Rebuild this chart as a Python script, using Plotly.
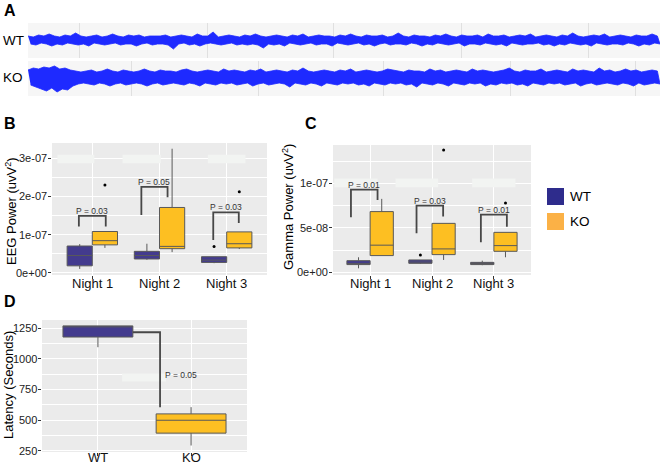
import plotly.graph_objects as go

W, H = 662, 464
def px(x): return x / W
def py(y): return 1 - y / H

# ---------------- data ----------------
genotypes = ["WT", "KO"]
nights = ["Night 1", "Night 2", "Night 3"]

# A: EEG trace, successive positive / negative excursions (arbitrary units)
wt_upper = [4,3,5,4,6,4,3,5,4,7,4,3,4,5,3,4,6,4,3,5,
            4,5,3,4,4,4,5,3,4,5,4,3,6,4,4,8,3,4,5,4,
            3,5,4,6,4,3,4,5,4,3,5,4,6,3,4,5,4,4,3,5,
            4,6,4,3,5,4,4,5,3,4,7,4,3,5,4,4,3,5,4,6,
            4,3,5,4,4,5,3,6,4,4,5,3,4,5,4,6,3,4,5,4,
            3,5,4,7,4,3,4,5,4,6,3,4,5,4,3,5,4,4,6,4]
wt_lower = [-4,-5,-3,-4,-6,-4,-5,-3,-4,-5,-4,-6,-3,-4,-5,-4,-3,-5,-4,-4,
            -6,-4,-3,-5,-4,-4,-5,-9,-4,-3,-5,-4,-6,-4,-3,-4,-5,-4,-3,-5,
            -4,-5,-4,-5,-8,-4,-5,-4,-6,-3,-4,-5,-4,-3,-5,-4,-4,-6,-3,-4,
            -5,-4,-3,-5,-4,-6,-4,-3,-5,-4,-4,-5,-3,-4,-6,-4,-5,-3,-4,-5,
            -4,-3,-6,-4,-4,-5,-3,-4,-5,-4,-6,-3,-4,-5,-4,-4,-3,-5,-4,-6,
            -4,-5,-3,-4,-5,-4,-6,-3,-4,-5,-4,-4,-5,-3,-4,-6,-4,-5,-3,-4]
ko_upper = [7,9,8,10,9,11,8,9,7,6,5,6,7,5,6,8,6,5,7,6,
            5,6,8,6,5,7,6,6,5,7,8,6,5,6,7,6,5,8,6,7,
            6,5,7,6,8,5,6,7,6,5,7,6,9,6,5,6,7,6,5,7,
            6,8,5,6,7,6,5,6,8,7,6,5,7,6,6,5,8,6,7,5,
            6,7,6,5,8,6,7,6,5,6,7,9,6,5,7,6,6,8,5,6,
            7,6,5,8,6,7,6,5,9,6,7,5,6,8,6,7,5,6,7,6]
ko_lower = [-8,-10,-12,-14,-11,-15,-12,-13,-9,-7,-6,-7,-8,-6,-7,-9,-7,-6,-8,-7,
            -6,-7,-9,-7,-6,-8,-7,-6,-7,-8,-6,-7,-9,-6,-7,-8,-6,-7,-6,-8,
            -7,-6,-9,-7,-6,-8,-7,-6,-7,-10,-6,-7,-8,-6,-7,-9,-6,-7,-8,-6,
            -7,-6,-8,-7,-9,-6,-7,-8,-6,-7,-6,-8,-7,-10,-6,-7,-8,-6,-7,-9,
            -6,-7,-8,-6,-7,-6,-9,-7,-8,-6,-7,-6,-8,-7,-9,-6,-7,-8,-6,-7,
            -6,-8,-7,-6,-9,-7,-6,-8,-7,-6,-7,-8,-6,-7,-9,-6,-8,-7,-6,-7]

# B: EEG power (x 1e-07)
eeg_wt_low  = [0.10, 0.34, 0.25]
eeg_wt_q1   = [0.18, 0.36, 0.27]
eeg_wt_med  = [0.45, 0.45, 0.33]
eeg_wt_q3   = [0.70, 0.56, 0.42]
eeg_wt_high = [0.75, 0.76, 0.42]
eeg_ko_low  = [0.65, 0.54, 0.62]
eeg_ko_q1   = [0.73, 0.63, 0.65]
eeg_ko_med  = [0.84, 0.69, 0.76]
eeg_ko_q3   = [1.08, 1.71, 1.07]
eeg_ko_high = [1.08, 3.25, 1.07]
eeg_wt_out  = [None, None, 0.69]
eeg_ko_out  = [2.30, None, 2.12]
eeg_br_left  = [1.21, 1.51, 0.86]
eeg_br_top   = [1.49, 2.25, 1.58]
eeg_br_right = [1.21, 1.98, 1.30]
eeg_p = ["P = 0.03", "P = 0.05", "P = 0.03"]
eeg_ticks = [0, 1, 2, 3]
eeg_tick_text = ["0e+00", "1e-07", "2e-07", "3e-07"]

# C: Gamma power (x 1e-08)
gam_wt_low  = [0.45, 0.95, 0.80]
gam_wt_q1   = [0.87, 1.01, 0.87]
gam_wt_med  = [1.00, 1.15, 0.95]
gam_wt_q3   = [1.31, 1.39, 1.12]
gam_wt_high = [1.69, 1.39, 1.31]
gam_ko_low  = [1.88, 1.39, 1.69]
gam_ko_q1   = [1.88, 1.99, 2.36]
gam_ko_med  = [3.05, 2.63, 3.00]
gam_ko_q3   = [6.82, 5.50, 4.49]
gam_ko_high = [8.25, 5.50, 4.49]
gam_wt_out  = [None, 1.95, None]
gam_ko_out  = [None, 13.75, 7.80]
gam_br_left  = [6.18, 4.38, 3.37]
gam_br_top   = [9.29, 7.49, 6.48]
gam_br_right = [8.13, 6.26, 5.13]
gam_p = ["P = 0.01", "P = 0.03", "P = 0.01"]
gam_ticks = [0, 5, 10]
gam_tick_text = ["0e+00", "5e-08", "1e-07"]

# D: latency (seconds)
lat_low  = [1095, 293]
lat_q1   = [1178, 394]
lat_med  = [1265, 499]
lat_q3   = [1269, 551]
lat_high = [1269, 606]
lat_br = [1217, 605]
lat_p = "P = 0.05"
lat_ticks = [250, 500, 750, 1000, 1250]
lat_tick_text = ["250", "500", "750", "1000", "1250"]

# ---------------- style ----------------
WT_FILL = "#433B8E"
KO_FILL = "#FDBF22"
WT_LEG = "#2E2C8C"
KO_LEG = "#FBB146"
BOX_LINE = "#595959"
BR_COL = "#474747"
TRACE = "rgb(30,42,255)"
PANEL = "#EBEBEB"
REG = "Liberation Sans, Arial, sans-serif"
PFONT = dict(family=REG, size=8.5, color="#333333")
TICKF = dict(family=REG, size=11, color="#222222")

fig = go.Figure()

# ---- A traces: filled envelope between positive and negative excursions ----
for up, lo, ax in [(wt_upper, wt_lower, ""), (ko_upper, ko_lower, "2")]:
    xu = [2 * i for i in range(len(up))]
    xl = [2 * i + 1 for i in range(len(lo))]
    fig.add_trace(go.Scatter(x=xu + xl[::-1], y=up + lo[::-1], mode="lines", fill="toself",
                             fillcolor=TRACE, line=dict(color=TRACE, width=0.8),
                             xaxis="x" + ax, yaxis="y" + ax, hoverinfo="skip", showlegend=False))

def add_boxes(xa, ya, pos, low, q1, med, q3, high, fill, width, scale=1.0):
    for p, a, b, c, d, e in zip(pos, low, q1, med, q3, high):
        fig.add_trace(go.Box(x=[p], q1=[b*scale], median=[c*scale], q3=[d*scale],
                             lowerfence=[a*scale], upperfence=[e*scale],
                             width=width, fillcolor=fill, whiskerwidth=0,
                             line=dict(color=BOX_LINE, width=1), boxpoints=False,
                             xaxis=xa, yaxis=ya, showlegend=False, hoverinfo="skip"))

def add_outliers(xa, ya, pos, vals, scale=1.0):
    xs = [p for p, v in zip(pos, vals) if v is not None]
    ys = [v*scale for v in vals if v is not None]
    if xs:
        fig.add_trace(go.Scatter(x=xs, y=ys, mode="markers",
                                 marker=dict(color="black", size=3),
                                 xaxis=xa, yaxis=ya, showlegend=False, hoverinfo="skip"))

def add_brackets(xa, ya, lo_off, hi_off, lb, top, rb, texts, scale):
    for i in range(len(lb)):
        xl, xr = i + lo_off[i], i + hi_off[i]
        fig.add_trace(go.Scatter(x=[xl, xl, xr, xr],
                                 y=[lb[i]*scale, top[i]*scale, top[i]*scale, rb[i]*scale],
                                 mode="lines", line=dict(color=BR_COL, width=1.8),
                                 xaxis=xa, yaxis=ya, showlegend=False, hoverinfo="skip"))
        fig.add_annotation(x=(xl + xr) / 2, y=top[i]*scale, xref=xa, yref=ya,
                           text=texts[i], showarrow=False, yanchor="bottom", yshift=-2,
                           font=PFONT)

dodge = 0.1875
idx = list(range(len(nights)))

# ---- B ----
add_boxes("x3", "y3", [i - dodge for i in idx], eeg_wt_low, eeg_wt_q1, eeg_wt_med, eeg_wt_q3, eeg_wt_high, WT_FILL, 0.375, 1e-7)
add_boxes("x3", "y3", [i + dodge for i in idx], eeg_ko_low, eeg_ko_q1, eeg_ko_med, eeg_ko_q3, eeg_ko_high, KO_FILL, 0.375, 1e-7)
add_outliers("x3", "y3", [i - dodge for i in idx], eeg_wt_out, 1e-7)
add_outliers("x3", "y3", [i + dodge for i in idx], eeg_ko_out, 1e-7)
add_brackets("x3", "y3", [-0.20, -0.27, -0.20], [0.20, 0.12, 0.18],
             eeg_br_left, eeg_br_top, eeg_br_right, eeg_p, 1e-7)

# ---- C ----
add_boxes("x4", "y4", [i - dodge for i in idx], gam_wt_low, gam_wt_q1, gam_wt_med, gam_wt_q3, gam_wt_high, WT_FILL, 0.375, 1e-8)
add_boxes("x4", "y4", [i + dodge for i in idx], gam_ko_low, gam_ko_q1, gam_ko_med, gam_ko_q3, gam_ko_high, KO_FILL, 0.375, 1e-8)
add_outliers("x4", "y4", [i - dodge for i in idx], gam_wt_out, 1e-8)
add_outliers("x4", "y4", [i + dodge for i in idx], gam_ko_out, 1e-8)
add_brackets("x4", "y4", [-0.31, -0.25, -0.21], [0.12, 0.18, 0.21],
             gam_br_left, gam_br_top, gam_br_right, gam_p, 1e-8)

# ---- D ----
add_boxes("x5", "y5", [0], lat_low[:1], lat_q1[:1], lat_med[:1], lat_q3[:1], lat_high[:1], WT_FILL, 0.75)
add_boxes("x5", "y5", [1], lat_low[1:], lat_q1[1:], lat_med[1:], lat_q3[1:], lat_high[1:], KO_FILL, 0.75)
fig.add_trace(go.Scatter(x=[0.375, 0.667, 0.667], y=[lat_br[0], lat_br[0], lat_br[1]],
                         mode="lines", line=dict(color=BR_COL, width=1.8),
                         xaxis="x5", yaxis="y5", showlegend=False, hoverinfo="skip"))
fig.add_annotation(x=0.70, y=865, xref="x5", yref="y5", text=lat_p, showarrow=False,
                   xanchor="left", font=PFONT)

# ---- category labels ----
for xa, labels, yc in [("x3", nights, 283), ("x4", nights, 283), ("x5", genotypes, 457)]:
    for i, lab in enumerate(labels):
        fig.add_annotation(x=i, y=py(yc), xref=xa, yref="paper", text=lab, showarrow=False,
                           xanchor="center", yanchor="middle",
                           font=dict(family=REG, size=13, color="#111111"))

# ---- value tick labels ----
for ya, left, vals, texts, scale in [("y3", 52, eeg_ticks, eeg_tick_text, 1e-7),
                                     ("y4", 333, gam_ticks, gam_tick_text, 1e-8),
                                     ("y5", 42, lat_ticks, lat_tick_text, 1.0)]:
    for v, t in zip(vals, texts):
        fig.add_annotation(x=px(left - 3), y=v * scale, xref="paper", yref=ya, text=t,
                           showarrow=False, xanchor="right", yanchor="middle", font=TICKF)

# ---- faint label rectangles ----
shapes = []
for (x0, x1) in [(-0.52, 0.03), (0.45, 1.02), (1.72, 2.28)]:
    shapes.append(dict(type="rect", xref="x3", yref="y3", x0=x0, x1=x1, y0=2.87e-7, y1=3.09e-7,
                       fillcolor="#F2F4F2", line=dict(width=0), layer="between"))
for (x0, x1) in [(-0.58, 0.12), (0.41, 1.10), (1.65, 2.35)]:
    shapes.append(dict(type="rect", xref="x4", yref="y4", x0=x0, x1=x1, y0=0.955e-7, y1=1.055e-7,
                       fillcolor="#F2F4F2", line=dict(width=0), layer="between"))
shapes.append(dict(type="rect", xref="x5", yref="y5", x0=0.26, x1=0.73, y0=816, y1=881,
                   fillcolor="#F2F4F2", line=dict(width=0), layer="between"))

# panel A backgrounds
for (y0, y1) in [(23, 58), (61, 96)]:
    shapes.append(dict(type="rect", xref="paper", yref="paper", x0=px(28), x1=px(660),
                       y0=py(y1), y1=py(y0), fillcolor="#F6F6F6", line=dict(width=0), layer="below"))

# ---- legend ----
for k, (g, col) in enumerate(zip(genotypes, [WT_LEG, KO_LEG])):
    y0 = 188 + k * 25
    shapes.append(dict(type="rect", xref="paper", yref="paper", x0=px(547), x1=px(564),
                       y0=py(y0 + 17), y1=py(y0), fillcolor=col, line=dict(width=0)))
    fig.add_annotation(x=px(568), y=py(y0 + 8.5), xref="paper", yref="paper", text=g,
                       showarrow=False, xanchor="left", yanchor="middle",
                       font=dict(family=REG, size=13.5, color="black"))

# ---- panel letters and labels ----
for letter, (lx, ly) in zip("ABCD", [(2, 11), (2, 124), (303, 124), (2, 301)]):
    fig.add_annotation(x=px(lx), y=py(ly), xref="paper", yref="paper", text="<b>%s</b>" % letter,
                       showarrow=False, xanchor="left", yanchor="middle",
                       font=dict(family=REG, size=16, color="black"))
for g, yc in zip(genotypes, [40, 77]):
    fig.add_annotation(x=px(1), y=py(yc), xref="paper", yref="paper", text=g, showarrow=False,
                       xanchor="left", yanchor="middle", font=dict(family=REG, size=13.5, color="black"))

for txt, (xc, yc) in [("EEG Power (uvV<sup>2</sup>)", (11, 211)),
                      ("Gamma Power (uvV<sup>2</sup>)", (288, 207)),
                      ("Latency (Seconds)", (8, 385))]:
    fig.add_annotation(x=px(xc), y=py(yc), xref="paper", yref="paper", text=txt, showarrow=False,
                       textangle=-90, xanchor="center", yanchor="middle",
                       font=dict(family=REG, size=13, color="black"))

# ---- axes ----
NPTS = 2 * len(wt_upper) - 1
def trace_axes(ydom, gridvals, yrng):
    xa = dict(domain=[px(28), px(660)], range=[0, NPTS], showgrid=True,
              gridcolor="#E0E0E0", gridwidth=1, tickvals=gridvals, showticklabels=False,
              ticks="", zeroline=False, showline=False)
    ya = dict(domain=[py(ydom[1]), py(ydom[0])], range=yrng, showgrid=False, showticklabels=False,
              ticks="", zeroline=False, showline=False)
    return xa, ya

xa1, ya1 = trace_axes((23, 58), [19.3, 67.7, 115.7, 163.8, 211.8], [-18, 17])
xa2, ya2 = trace_axes((61, 96), [39.3, 87.0, 134.3, 182.3, 229.6], [-19, 16])

def cat_x(dom, labels):
    return dict(domain=[px(dom[0]), px(dom[1])], range=[-0.6, len(labels) - 0.4],
                tickvals=list(range(len(labels))), showticklabels=False, showgrid=True,
                gridcolor="white", gridwidth=1.2, ticks="outside", ticklen=3, tickcolor="#333333",
                zeroline=False, showline=False)

def val_y(dom, rng, tv, minor):
    return dict(domain=[py(dom[1]), py(dom[0])], range=rng, tickvals=tv, showticklabels=False,
                showgrid=True, gridcolor="white", gridwidth=1.2, ticks="outside", ticklen=3,
                tickcolor="#333333", zeroline=False, showline=False,
                minor=dict(tickvals=minor, showgrid=True, gridcolor="white", gridwidth=0.6, ticks=""))

xa3 = cat_x((52, 267), nights)
ya3 = val_y((143, 275), [-0.06e-7, 3.40e-7], [v * 1e-7 for v in eeg_ticks], [0.5e-7, 1.5e-7, 2.5e-7])
xa4 = cat_x((333, 531), nights)
ya4 = val_y((145, 275), [-0.03e-7, 1.43e-7], [v * 1e-8 for v in gam_ticks], [2.5e-8, 7.5e-8, 12.5e-8])
xa5 = cat_x((42, 247), genotypes)
ya5 = val_y((320, 452), [240, 1317], lat_ticks, [375, 625, 875, 1125])

fig.update_layout(
    width=W, height=H, margin=dict(l=0, r=0, t=0, b=0),
    paper_bgcolor="white", plot_bgcolor=PANEL, showlegend=False,
    xaxis=dict(xa1, anchor="y"), yaxis=dict(ya1, anchor="x"),
    xaxis2=dict(xa2, anchor="y2"), yaxis2=dict(ya2, anchor="x2"),
    xaxis3=dict(xa3, anchor="y3"), yaxis3=dict(ya3, anchor="x3"),
    xaxis4=dict(xa4, anchor="y4"), yaxis4=dict(ya4, anchor="x4"),
    xaxis5=dict(xa5, anchor="y5"), yaxis5=dict(ya5, anchor="x5"),
    shapes=shapes,
)

fig.write_html("out.html", config={"displayModeBar": False},
               post_script="document.body.style.margin='0';document.body.style.overflow='hidden';")
